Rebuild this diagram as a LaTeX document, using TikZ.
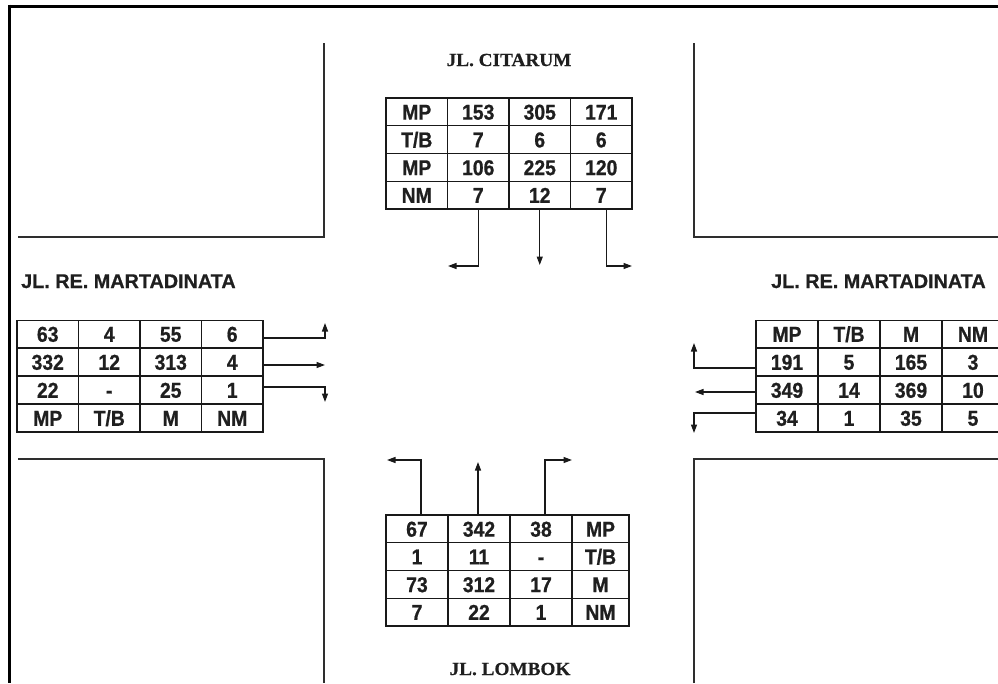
\documentclass[tikz,border=0pt]{standalone}
\usepackage{fontspec}
\setmainfont{Liberation Serif}
\setsansfont{Liberation Sans}
\newfontfamily\tabfamily{Liberation Sans}[FakeStretch=0.9, FakeBold=0.8]
\newfontfamily\titlesans{Liberation Sans}[FakeBold=0.6]
\newfontfamily\titleserif{Liberation Serif}[FakeStretch=1.04, FakeBold=0.4]
\usetikzlibrary{arrows.meta}
\newcommand{\tabfont}{\tabfamily\fontsize{21.5}{22}\selectfont\bfseries}
\begin{document}
\begin{tikzpicture}[x=1pt,y=-1pt,
  cell/.style={draw=black!90, line width=1.2pt, minimum width=61.5pt, minimum height=27.8pt,
    inner sep=0pt, outer sep=0pt, font=\tabfont, text=black!88, text height=15.5pt, text depth=0pt, anchor=center},
  road/.style={draw=black!82, line width=2pt},
  frame/.style={draw=black, line width=3pt},
  arr/.style={draw=black!90, line width=1.3pt, -{Triangle[length=8.5pt,width=6pt]}},
  streetsans/.style={font=\titlesans\fontsize{19.8}{20}\selectfont\bfseries, text=black!88, inner sep=0pt, anchor=base west},
  streetserif/.style={font=\titleserif\fontsize{18.5}{19}\selectfont\bfseries, text=black!88, inner sep=0pt, anchor=base}]
\useasboundingbox (0,0) rectangle (998,683);
\clip (0,0) rectangle (998,683);
\fill[white] (0,0) rectangle (998,683);
% frame
\draw[frame] (8,6) -- (998,6);
\draw[frame] (9.5,4.5) -- (9.5,683);
% road edges
\draw[road] (18,237) -- (324,237) -- (324,43);
\draw[road] (694,43) -- (694,237) -- (998,237);
\draw[road] (18,459) -- (324,459) -- (324,683);
\draw[road] (694,683) -- (694,459) -- (998,459);
% street names
\node[streetserif] (nT) at (509,66) {JL. CITARUM};
\node[streetserif] (nB) at (510,675) {JL. LOMBOK};
\node[streetsans] (nL) at (21,288) {JL. RE. MARTADINATA};
\node[streetsans] (nR) at (771,288) {JL. RE. MARTADINATA};
% top table
\node[cell] (T11) at (416.75,111.9) {MP};
\node[cell] (T12) at (478.25,111.9) {153};
\node[cell] (T13) at (539.75,111.9) {305};
\node[cell] (T14) at (601.25,111.9) {171};
\node[cell] (T21) at (416.75,139.6) {T/B};
\node[cell] (T22) at (478.25,139.6) {7};
\node[cell] (T23) at (539.75,139.6) {6};
\node[cell] (T24) at (601.25,139.6) {6};
\node[cell] (T31) at (416.75,167.4) {MP};
\node[cell] (T32) at (478.25,167.4) {106};
\node[cell] (T33) at (539.75,167.4) {225};
\node[cell] (T34) at (601.25,167.4) {120};
\node[cell] (T41) at (416.75,195.1) {NM};
\node[cell] (T42) at (478.25,195.1) {7};
\node[cell] (T43) at (539.75,195.1) {12};
\node[cell] (T44) at (601.25,195.1) {7};
% left table
\node[cell] (L11) at (47.75,334) {63};
\node[cell] (L12) at (109.25,334) {4};
\node[cell] (L13) at (170.75,334) {55};
\node[cell] (L14) at (232.25,334) {6};
\node[cell] (L21) at (47.75,362) {332};
\node[cell] (L22) at (109.25,362) {12};
\node[cell] (L23) at (170.75,362) {313};
\node[cell] (L24) at (232.25,362) {4};
\node[cell] (L31) at (47.75,390) {22};
\node[cell] (L32) at (109.25,390) {-};
\node[cell] (L33) at (170.75,390) {25};
\node[cell] (L34) at (232.25,390) {1};
\node[cell] (L41) at (47.75,418) {MP};
\node[cell] (L42) at (109.25,418) {T/B};
\node[cell] (L43) at (170.75,418) {M};
\node[cell] (L44) at (232.25,418) {NM};
% right table
\begin{scope}[cell/.append style={minimum width=62pt}]
\node[cell] (R11) at (787,334) {MP};
\node[cell] (R12) at (849,334) {T/B};
\node[cell] (R13) at (911,334) {M};
\node[cell] (R14) at (973,334) {NM};
\node[cell] (R21) at (787,362) {191};
\node[cell] (R22) at (849,362) {5};
\node[cell] (R23) at (911,362) {165};
\node[cell] (R24) at (973,362) {3};
\node[cell] (R31) at (787,390) {349};
\node[cell] (R32) at (849,390) {14};
\node[cell] (R33) at (911,390) {369};
\node[cell] (R34) at (973,390) {10};
\node[cell] (R41) at (787,418) {34};
\node[cell] (R42) at (849,418) {1};
\node[cell] (R43) at (911,418) {35};
\node[cell] (R44) at (973,418) {5};
\end{scope}
% bottom table
\begin{scope}[cell/.append style={minimum width=62pt, minimum height=27.75pt}]
\node[cell] (B11) at (417,528.9) {67};
\node[cell] (B12) at (479,528.9) {342};
\node[cell] (B13) at (541,528.9) {38};
\node[cell] (B21) at (417,556.6) {1};
\node[cell] (B22) at (479,556.6) {11};
\node[cell] (B23) at (541,556.6) {-};
\node[cell] (B31) at (417,584.4) {73};
\node[cell] (B32) at (479,584.4) {312};
\node[cell] (B33) at (541,584.4) {17};
\node[cell] (B41) at (417,612.1) {7};
\node[cell] (B42) at (479,612.1) {22};
\node[cell] (B43) at (541,612.1) {1};
\end{scope}
\begin{scope}[cell/.append style={minimum width=57pt, minimum height=27.75pt}]
\node[cell] (B14) at (600.5,528.9) {MP};
\node[cell] (B24) at (600.5,556.6) {T/B};
\node[cell] (B34) at (600.5,584.4) {M};
\node[cell] (B44) at (600.5,612.1) {NM};
\end{scope}
% top arrows
\coordinate (tA) at (448,266);
\coordinate (tB) at (539.75,265);
\coordinate (tC) at (632,266);
\draw[arr] (T42.south) |- (tA);
\draw[arr] (T43.south) -- (tB);
\draw[arr] ([xshift=5.5pt]T44.south) |- (tC);
% left arrows
\coordinate (lA) at (325,323);
\coordinate (lB) at (325,365);
\coordinate (lC) at (325,402);
\draw[arr] ([yshift=-4pt]L14.east) -| (lA);
\draw[arr] ([yshift=-3pt]L24.east) -- (lB);
\draw[arr] ([yshift=3pt]L34.east) -| (lC);
% right arrows
\coordinate (rA) at (694,343);
\coordinate (rB) at (695,392);
\coordinate (rC) at (694,433);
\draw[arr] ([yshift=-6pt]R21.west) -| (rA);
\draw[arr] ([yshift=-2pt]R31.west) -- (rB);
\draw[arr] ([yshift=5pt]R41.west) -| (rC);
% bottom arrows
\coordinate (bA) at (387,460);
\coordinate (bB) at (478,462);
\coordinate (bC) at (572,460);
\draw[arr] ([xshift=4pt]B11.north) |- (bA);
\draw[arr] ([xshift=-1pt]B12.north) -- (bB);
\draw[arr] ([xshift=4pt]B13.north) |- (bC);
\end{tikzpicture}
\end{document}
